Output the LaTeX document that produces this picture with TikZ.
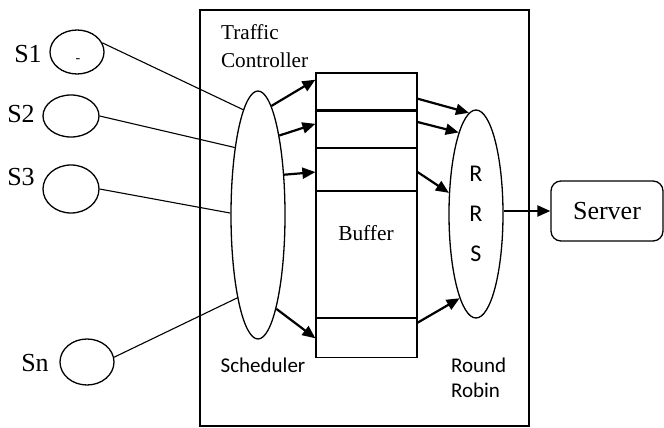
\documentclass[tikz,border=0pt]{standalone}
\usepackage{fontspec}
\setmainfont{Liberation Serif}
\newfontfamily\calibri{Carlito}
\usetikzlibrary{shapes.geometric, arrows.meta, positioning, calc}

\tikzset{
  src/.style={draw, ellipse, line width=0.65pt, inner sep=0pt, minimum width=27pt, minimum height=22pt},
  slot/.style={draw, rectangle, line width=0.6pt, minimum width=50.5pt, inner sep=0pt},
  feed/.style={line width=0.55pt},
  push/.style={line width=1.1pt, -{Triangle[length=6.5pt, width=5.5pt]}},
  lbl/.style={font=\fontsize{13}{15}\selectfont},
}

\begin{document}
\begin{tikzpicture}[x=0.5pt, y=-0.5pt]
\useasboundingbox (0,0) rectangle (664,428);
% Controller box
\draw[line width=0.75pt] (200,10) rectangle (529,426);
\node[anchor=west, align=left, font=\fontsize{10.6}{14}\selectfont] (ctrllbl) at (214,46) {Traffic\\Controller};
% Sources
\node[src] (s1) at (77,52) {};
\node[font=\fontsize{7}{8}\selectfont] (s1dash) at (78,61) {-};
\node[src, minimum width=28pt, minimum height=21pt] (s2) at (71,116) {};
\node[src, minimum width=28pt, minimum height=24pt] (s3) at (71,189) {};
\node[src, minimum height=23pt] (sn) at (87,362) {};
\node[lbl] (s1lbl) at (28,54) {S1};
\node[lbl] (s2lbl) at (21,114) {S2};
\node[lbl] (s3lbl) at (21,177) {S3};
\node[lbl] (snlbl) at (35,363) {Sn};
% Scheduler
\node[draw, ellipse, line width=0.65pt, inner sep=0pt, minimum width=27pt, minimum height=124pt] (sched) at (258,215) {};
\node[font=\calibri\fontsize{10.5}{13}\selectfont] (schedlbl) at (263,365) {Scheduler};
% Buffer
\node[slot, minimum height=18.5pt] (b1) at (366.5,91.5) {};
\node[slot, minimum height=18pt, below=0pt of b1] (b2) {};
\node[slot, minimum height=21pt, below=0pt of b2] (b3) {};
\node[slot, minimum height=63pt, below=0pt of b3] (bmid) {};
\node[slot, minimum height=19.5pt, below=0pt of bmid] (bn) {};
\node[font=\fontsize{10.7}{13}\selectfont] (buflbl) at (366,233) {Buffer};
% Round robin
\node[draw, ellipse, line width=0.65pt, inner sep=0pt, minimum width=27pt, minimum height=104pt, align=center, font=\calibri\fontsize{12}{20}\selectfont] (rrs) at (476,214) {R\\R\\S};
\node[anchor=west, align=left, font=\calibri\fontsize{10.5}{12.5}\selectfont] (rrlbl) at (444,378) {Round\\Robin};
% Server
\node[draw, rounded corners=5pt, line width=0.65pt, minimum width=56pt, minimum height=30pt, font=\fontsize{13}{15}\selectfont] (server) at (607,211) {Server};
% Connections
\draw[feed] (s1.20) -- (sched.98);
\draw[feed] (s2.east) -- (sched.109);
\draw[feed] (s3.east) -- (sched.176);
\draw[feed] (sn.10) -- (sched.256);
\draw[push] (sched.83) -- (b1.167);
\draw[push] (sched.75) -- (b2.174);
\draw[push] (sched.57) -- (b3.183);
\draw[push] (sched.281) -- (bn.west);
\draw[push] (b1.352) -- (rrs.94);
\draw[push] (b2.8) -- (rrs.102);
\draw[push] (b3.357) -- (rrs.142);
\draw[push] (bn.17) -- (rrs.259);
\draw[push] (rrs.east |- server.west) -- (server.west);
\end{tikzpicture}
\end{document}
